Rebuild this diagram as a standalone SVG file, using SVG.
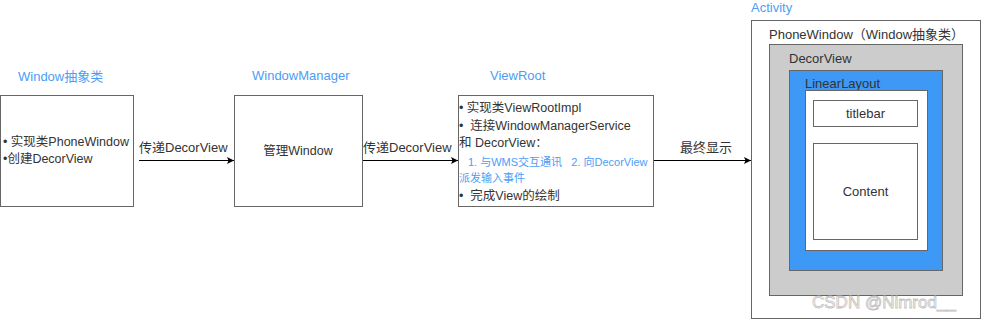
<svg xmlns="http://www.w3.org/2000/svg" width="981" height="320" viewBox="0 0 981 320">
<defs>
<style>
text{font-family:"Liberation Sans","Noto Sans CJK SC",sans-serif;font-size:12.5px;fill:#333;dominant-baseline:central;white-space:pre}
.lbl{fill:#4c9df5}
.big{font-size:13px}
.sm{font-size:11px;fill:#4c9df5}
.box{fill:#fff;stroke:#666;stroke-width:1}
.mid{text-anchor:middle}
.conn{stroke:#000;stroke-width:1;fill:none}
</style>
<marker id="arr" viewBox="0 0 8 8" refX="7" refY="4" markerWidth="8" markerHeight="8" markerUnits="userSpaceOnUse" orient="auto">
<path d="M0,0.5 L7,4 L0,7.5 L1.5,4 Z" fill="#000"/>
</marker>
</defs>
<rect width="981" height="320" fill="#fff"/>
<g id="window">
<text class="lbl big" x="18" y="76">Window抽象类</text>
<rect class="box" x="0.5" y="95.5" width="133" height="111"/>
<text x="3" y="142">• 实现类PhoneWindow</text>
<text x="3" y="159">•创建DecorView</text>
</g>
<g id="windowmanager">
<text class="lbl big" x="252" y="75">WindowManager</text>
<rect class="box" x="234.5" y="95.5" width="128" height="111"/>
<text class="mid" x="298" y="151">管理Window</text>
</g>
<g id="viewroot">
<text class="lbl big" x="490" y="75">ViewRoot</text>
<rect class="box" x="458.5" y="95.5" width="195" height="111"/>
<text x="459" y="107.5">• 实现类ViewRootImpl</text>
<text x="459" y="125.5" xml:space="preserve">•  连接WindowManagerService</text>
<text x="459" y="143" xml:space="preserve">和 DecorView：</text>
<text class="sm" x="468" y="161.5" xml:space="preserve">1. 与WMS交互通讯   2. 向DecorView</text>
<text class="sm" x="459" y="177.5">派发输入事件</text>
<text x="459" y="196" xml:space="preserve">•  完成View的绘制</text>
</g>
<g id="activity">
<text class="lbl big" x="751" y="7">Activity</text>
<rect class="box" x="751.5" y="20.5" width="229" height="298"/>
<text class="big" x="769" y="34">PhoneWindow（Window抽象类）</text>
</g>
<g id="decorview">
<rect x="769.5" y="44.5" width="193" height="251" fill="#ccc" stroke="#666"/>
<text class="big" x="789" y="58">DecorView</text>
</g>
<g id="linearlayout">
<rect x="789.5" y="70.5" width="153" height="200" fill="#3d99f5" stroke="#666"/>
<text class="big" x="805" y="83">LinearLayout</text>
<rect class="box" x="805.5" y="90.5" width="122" height="160"/>
</g>
<g id="titlebar">
<rect class="box" x="813.5" y="100.5" width="104" height="26"/>
<text class="mid big" x="865.5" y="113.5">titlebar</text>
</g>
<g id="content">
<rect class="box" x="813.5" y="143.5" width="104" height="96"/>
<text class="mid big" x="865.5" y="191.5">Content</text>
</g>
<g id="connectors">
<line class="conn" x1="139" y1="160.5" x2="234" y2="160.5" marker-end="url(#arr)"/>
<text class="big" x="139" y="147">传递DecorView</text>
<line class="conn" x1="363" y1="160.5" x2="458" y2="160.5" marker-end="url(#arr)"/>
<text class="big" x="363" y="147">传递DecorView</text>
<line class="conn" x1="654" y1="160.5" x2="751" y2="160.5" marker-end="url(#arr)"/>
<text class="big" x="680" y="147">最终显示</text>
</g>
<text x="812" y="302" style="font-size:17px;fill:#fff;stroke:#bbb;stroke-width:0.8;opacity:0.9">CSDN @Nimrod__</text>
</svg>
